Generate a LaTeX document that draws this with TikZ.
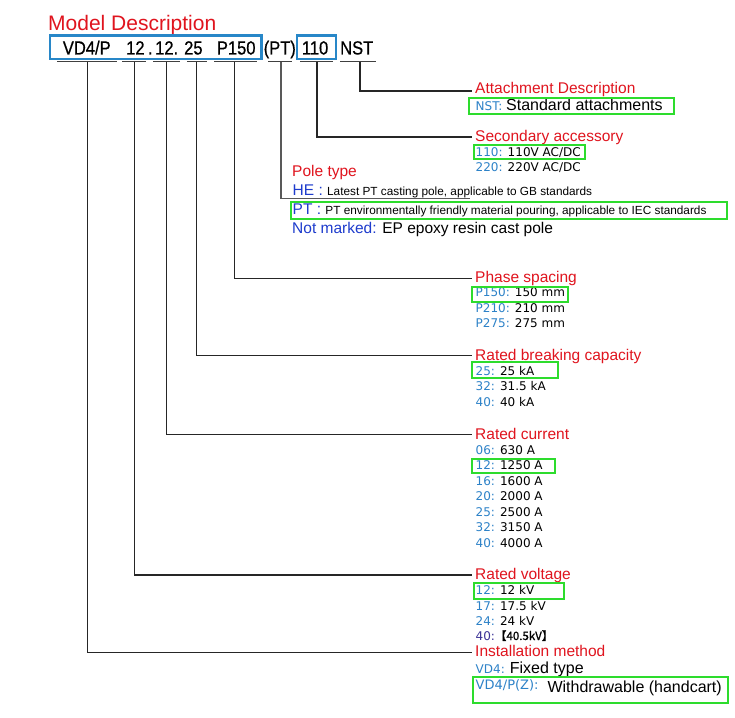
\documentclass[tikz,border=0pt]{standalone}
\usepackage{fontspec}
\setmainfont{Liberation Sans}
\newfontfamily\hfont{Liberation Sans}
\newfontfamily\codefont[FakeStretch=0.87,FakeBold=0.6]{Liberation Sans}
\newfontfamily\lfont{DejaVu Sans}
\newfontfamily\cjk[FakeBold=1.2]{Noto Sans CJK SC}
\definecolor{hred}{RGB}{224,20,30}
\definecolor{cblue}{RGB}{45,130,200}
\definecolor{royal}{RGB}{30,60,205}
\definecolor{indig}{RGB}{60,50,150}
\definecolor{gbox}{RGB}{45,220,45}
\definecolor{bbox}{RGB}{40,135,200}
\tikzset{
  hd/.style={anchor=base west,inner sep=0pt,text=hred,font=\hfont\fontsize{15.5}{18}\selectfont},
  it/.style={anchor=base west,inner sep=0pt,font=\lfont\fontsize{12}{14}\selectfont},
  pl/.style={anchor=base west,inner sep=0pt,font=\hfont\fontsize{15.5}{18}\selectfont},
  code/.style={anchor=base west,inner sep=0pt,font=\codefont\fontsize{19}{22}\selectfont},
  conn/.style={draw=black!85,line width=1.1pt},
  ul/.style={draw=black!75,line width=0.9pt},
  greenbox/.style={draw=gbox,line width=2pt},
  bluebox/.style={draw=bbox,line width=2.2pt}
}
\newcommand{\bigtxt}{\hfont\fontsize{16}{18}\selectfont}
\newcommand{\smalltxt}{\hfont\fontsize{11.8}{14}\selectfont}
\begin{document}
\begin{tikzpicture}[x=1pt,y=-1pt]
\useasboundingbox[fill=white] (0,0) rectangle (735,717);

% title
\node[anchor=base west,inner sep=0pt,text=hred,font=\hfont\fontsize{21}{24}\selectfont] (title) at (48,30.7) {Model Description};

% code row
\draw[bluebox] (50,35.5) rectangle (261.5,59.3);
\draw[bluebox] (296.7,35.5) rectangle (336,59.3);
\node[code] (c1) at (62.7,54.5) {VD4/P};
\node[code] (c2) at (126,54.5) {12};
\node[code] (cdot) at (147.8,54.5) {.};
\node[code] (c3) at (155,54.5) {12.};
\node[code] (c4) at (184,54.5) {25};
\node[code] (c5) at (216.7,54.5) {P150};
\node[code] (c6) at (263.5,54.5) {(PT)};
\node[code] (c7) at (301.7,54.5) {110};
\node[code] (c8) at (340,54.5) {NST};

% underlines
\draw[ul] (57,61.5) -- (117,61.5);
\draw[ul] (122,61.5) -- (146,61.5);
\draw[ul] (153,61.5) -- (180,61.5);
\draw[ul] (187,61.5) -- (207,61.5);
\draw[ul] (214,61.5) -- (257,61.5);
\draw[ul] (268,61.5) -- (292,61.5);
\draw[ul] (300,61.5) -- (333,61.5);
\draw[ul] (340,61.5) -- (376,61.5);

% connector end points
\coordinate (u1) at (87.5,61.5);  \coordinate (e1) at (472,652.7);
\coordinate (u2) at (134.5,61.5); \coordinate (e2) at (472,575);
\coordinate (u3) at (166.7,61.5); \coordinate (e3) at (472,434.7);
\coordinate (u4) at (196.7,61.5); \coordinate (e4) at (472,355.7);
\coordinate (u5) at (234.5,61.5); \coordinate (e5) at (472,278.3);
\coordinate (u6) at (281,61.5);   \coordinate (e6) at (470,198.5);
\coordinate (u7) at (317,61.5);   \coordinate (e7) at (472,137);
\coordinate (u8) at (360,61.5);   \coordinate (e8) at (472,91);

\draw[conn] (u1) |- (e1);
\draw[conn] (u2) |- (e2);
\draw[conn] (u3) |- (e3);
\draw[conn] (u4) |- (e4);
\draw[conn] (u5) |- (e5);
\draw[conn,draw=black!65,line width=1.7pt] (u6) |- (e6);
\draw[conn] (u7) |- (e7);
\draw[conn] (u8) |- (e8);

% Attachment description
\node[hd] (hAtt) at (475,93.5) {Attachment Description};
\node[it] (iNST) at (475.5,110) {\textcolor{cblue}{NST:} {\bigtxt Standard attachments}};
\draw[greenbox] (469.3,98.3) rectangle (674.3,114);

% Secondary accessory
\node[hd] (hSec) at (475,141) {Secondary accessory};
\node[it] (i110) at (475.5,156) {\textcolor{cblue}{110:} 110V AC/DC};
\node[it] (i220) at (475.5,171.7) {\textcolor{cblue}{220:} 220V AC/DC};
\draw[greenbox] (474,145) rectangle (585,159.3);

% Pole type
\node[hd] (hPole) at (292,176) {Pole type};
\node[pl] (pHE) at (292.5,195) {\textcolor{royal}{HE :} {\smalltxt Latest PT casting pole, applicable to GB standards}};
\node[pl] (pPT) at (292.5,214) {\textcolor{royal}{PT :} {\smalltxt PT environmentally friendly material pouring, applicable to IEC standards}};
\node[pl] (pNM) at (292,233) {\textcolor{royal}{Not marked:} EP epoxy resin cast pole};
\draw[greenbox] (290.7,202) rectangle (727.3,219);

% Phase spacing
\node[hd] (hPh) at (475,282.5) {Phase spacing};
\node[it] (iP150) at (475.5,296.7) {\textcolor{cblue}{P150:} 150 mm};
\node[it] (iP210) at (475.5,312.3) {\textcolor{cblue}{P210:} 210 mm};
\node[it] (iP275) at (475.5,327.7) {\textcolor{cblue}{P275:} 275 mm};
\draw[greenbox] (472.3,286.7) rectangle (568.3,301.7);

% Rated breaking capacity
\node[hd] (hBr) at (475,360) {Rated breaking capacity};
\node[it] (iB25) at (475.5,375) {\textcolor{cblue}{25:} 25 kA};
\node[it] (iB32) at (475.5,390.7) {\textcolor{cblue}{32:} 31.5 kA};
\node[it] (iB40) at (475.5,406.7) {\textcolor{cblue}{40:} 40 kA};
\draw[greenbox] (472.3,362.3) rectangle (558.3,378.3);

% Rated current
\node[hd] (hCur) at (475,439) {Rated current};
\node[it] (iC06) at (475.5,454) {\textcolor{cblue}{06:} 630 A};
\node[it] (iC12) at (475.5,469.3) {\textcolor{cblue}{12:} 1250 A};
\node[it] (iC16) at (475.5,485) {\textcolor{cblue}{16:} 1600 A};
\node[it] (iC20) at (475.5,500.7) {\textcolor{cblue}{20:} 2000 A};
\node[it] (iC25) at (475.5,516) {\textcolor{cblue}{25:} 2500 A};
\node[it] (iC32) at (475.5,531.7) {\textcolor{cblue}{32:} 3150 A};
\node[it] (iC40) at (475.5,547.3) {\textcolor{cblue}{40:} 4000 A};
\draw[greenbox] (472.3,459.3) rectangle (555,472.7);

% Rated voltage
\node[hd] (hVol) at (475,579) {Rated voltage};
\node[it] (iV12) at (475.5,594.3) {\textcolor{cblue}{12:} 12 kV};
\node[it] (iV17) at (475.5,610) {\textcolor{cblue}{17:} 17.5 kV};
\node[it] (iV24) at (475.5,625) {\textcolor{cblue}{24:} 24 kV};
\node[it] (iV40) at (475.5,640) {\textcolor{indig}{40:}{\cjk\fontsize{11.5}{13}\selectfont 【40.5kV】}};
\draw[greenbox] (474,583.3) rectangle (564.3,599.3);

% Installation method
\node[hd] (hIns) at (475,656.5) {Installation method};
\node[it] (iVD4) at (475.5,673.3) {\textcolor{cblue}{VD4:} {\bigtxt Fixed type}};
\node[it,font=\lfont\fontsize{13}{15}\selectfont] (iVZ) at (475.5,689.5) {\textcolor{cblue}{VD4/P(Z):}};
\node[anchor=base west,inner sep=0pt,font=\bigtxt] (iVZv) at (547.3,692.3) {Withdrawable (handcart)};
\draw[greenbox] (473.3,677.3) rectangle (728.3,703.3);
\end{tikzpicture}
\end{document}
